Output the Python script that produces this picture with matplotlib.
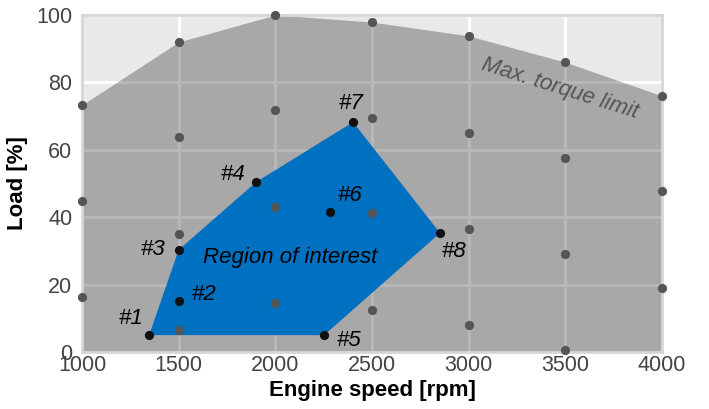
import matplotlib
matplotlib.use("Agg")
import matplotlib.pyplot as plt

plt.rcParams['font.family'] = ['Liberation Sans', 'DejaVu Sans']

# operating-map grid (speed [rpm] -> loads [%])
grid_speeds = [1000, 1500, 2000, 2500, 3000, 3500, 4000]
grid_loads = [
    [73.3, 44.8, 16.3],
    [92.0, 63.8, 35.0, 6.5],
    [100.0, 71.8, 43.0, 14.5],
    [97.9, 69.4, 41.2, 12.5],
    [93.8, 65.0, 36.5, 8.0],
    [86.0, 57.6, 29.0, 0.6],
    [76.0, 47.8, 19.0],
]
# max torque limit = top point of each column
max_load = [col[0] for col in grid_loads]

# selected operating points
pt_names = ['#1', '#2', '#3', '#4', '#5', '#6', '#7', '#8']
pt_speed = [1347, 1502, 1500, 1900, 2252, 2283, 2402, 2852]
pt_load = [5.0, 15.1, 30.3, 50.4, 5.0, 41.5, 68.2, 35.3]
# hull of region of interest
hull_order = [0, 2, 3, 6, 7, 4]

fig = plt.figure(figsize=(7.09, 4.09), dpi=100)
ax = fig.add_axes([0.1157, 0.1394, 0.818, 0.824])
ax.set_facecolor('#e9e9e9')

ax.grid(True, color='white', linewidth=2.2, zorder=0.5)
ax.set_axisbelow(True)

ax.fill_between(grid_speeds, 0, max_load, color='#202020', alpha=0.32,
                linewidth=0, zorder=0.6)

hx = [pt_speed[i] for i in hull_order]
hy = [pt_load[i] for i in hull_order]
ax.fill(hx, hy, color='#0070c0', linewidth=0, zorder=2)

for s, loads in zip(grid_speeds, grid_loads):
    ax.scatter([s] * len(loads), loads, s=44, color='#555555',
               zorder=3, clip_on=False, linewidths=0)

ax.scatter(pt_speed, pt_load, s=44, color='#111111', zorder=4,
           clip_on=False, linewidths=0)

# label positions (data units)
label_pos = {
    '#1': (1318, 10.0, 'right'),
    '#2': (1565, 17.0, 'left'),
    '#3': (1432, 30.3, 'right'),
    '#4': (1845, 52.8, 'right'),
    '#5': (2318, 3.4, 'left'),
    '#6': (2385, 46.3, 'center'),
    '#7': (2392, 73.8, 'center'),
    '#8': (2862, 29.7, 'left'),
}
for name in pt_names:
    x, y, ha = label_pos[name]
    ax.text(x, y, name, ha=ha, va='center', style='italic', fontsize=16,
            color='black', zorder=5)

ax.text(1626, 27.9, 'Region of interest', ha='left', va='center',
        style='italic', fontsize=16, color='black', zorder=5)
ax.text(3473, 78.3, 'Max. torque limit', ha='center', va='center',
        style='italic', fontsize=16, color='#555555', rotation=-17.5,
        rotation_mode='anchor', zorder=5)

ax.set_xlim(1000, 4000)
ax.set_ylim(0, 100)
ax.set_xticks([1000, 1500, 2000, 2500, 3000, 3500, 4000])
ax.set_yticks([0, 20, 40, 60, 80, 100])
ax.tick_params(length=0, labelsize=15.5, labelcolor='#444444')
ax.tick_params(axis='x', pad=2)
ax.tick_params(axis='y', pad=7)

for sp in ax.spines.values():
    sp.set_color('#d6d6d6')
    sp.set_linewidth(2)

ax.set_xlabel('Engine speed [rpm]', fontsize=16, fontweight='bold', labelpad=3)
ax.set_ylabel('Load [%]', fontsize=16, fontweight='bold', labelpad=6)

fig.savefig('out.png', dpi=100)
